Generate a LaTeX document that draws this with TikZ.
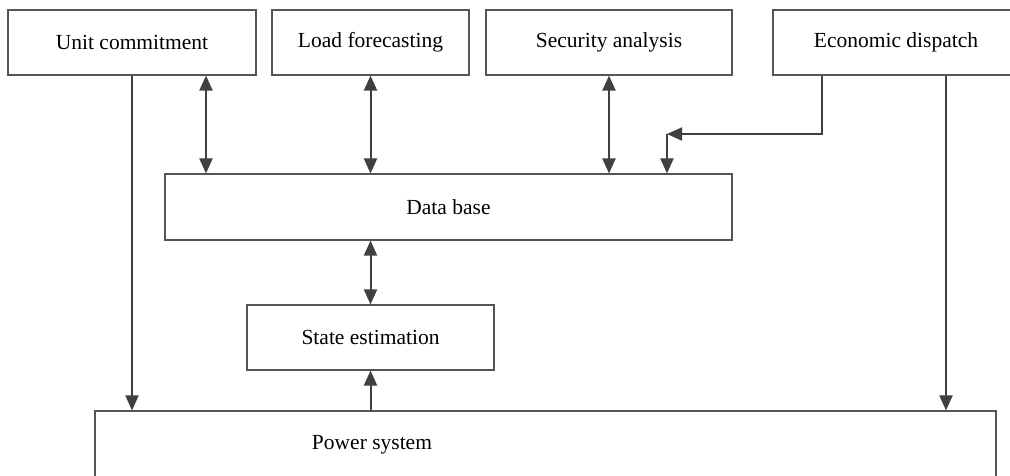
\documentclass[tikz,border=0pt]{standalone}
\usepackage{fontspec}
\setmainfont{Liberation Serif}
\usetikzlibrary{arrows.meta}
\definecolor{ln}{HTML}{404040}
\definecolor{bx}{HTML}{555555}
\begin{document}
\begin{tikzpicture}[x=1pt,y=-1pt,
 box/.style={draw=bx, line width=1.1pt, fill=white, inner sep=0pt, font=\fontsize{21.5}{26}\selectfont},
 lbl/.style={inner sep=0pt, font=\fontsize{21.5}{26}\selectfont},
 arr/.style={draw=ln, line width=2pt, -{Triangle[length=15pt,width=13pt]}},
 darr/.style={draw=ln, line width=2pt, {Triangle[length=15pt,width=13pt]}-{Triangle[length=15pt,width=13pt]}}]
\useasboundingbox (0,0) rectangle (1010,475);
\clip (0,0) rectangle (1010,475);
\node[box, minimum width=248pt, minimum height=65pt] (uc) at (132,42.5) {Unit commitment};
\node[box, minimum width=197pt, minimum height=65pt] (lf) at (370.5,42.5) {Load forecasting};
\node[box, minimum width=246pt, minimum height=65pt] (sa) at (609,42.5) {Security analysis};
\node[box, minimum width=246pt, minimum height=65pt] (ed) at (896,42.5) {Economic dispatch};
\node[box, minimum width=567pt, minimum height=66pt] (db) at (448.5,207) {Data base};
\node[box, minimum width=247pt, minimum height=65pt] (se) at (370.5,337.5) {State estimation};
\node[box, minimum width=901pt, minimum height=69pt] (ps) at (545.5,445.5) {};
\node[lbl] (pstext) at (372,445) {Power system};
\coordinate (c) at (667,134);
\draw[arr] (uc.south) -- (uc.south |- ps.north);
\draw[darr] ([xshift=74pt]uc.south) -- ([xshift=74pt]uc.south |- db.north);
\draw[darr] (lf.south) -- (lf.south |- db.north);
\draw[darr] (sa.south) -- (sa.south |- db.north);
\draw[arr] ([xshift=-74pt]ed.south) |- (c);
\draw[arr] (c) -- (c |- db.north);
\draw[arr] ([xshift=50pt]ed.south) -- ([xshift=50pt]ed.south |- ps.north);
\draw[darr] (se.north) -- (se.north |- db.south);
\draw[arr] (se.south |- ps.north) -- (se.south);
\end{tikzpicture}
\end{document}
